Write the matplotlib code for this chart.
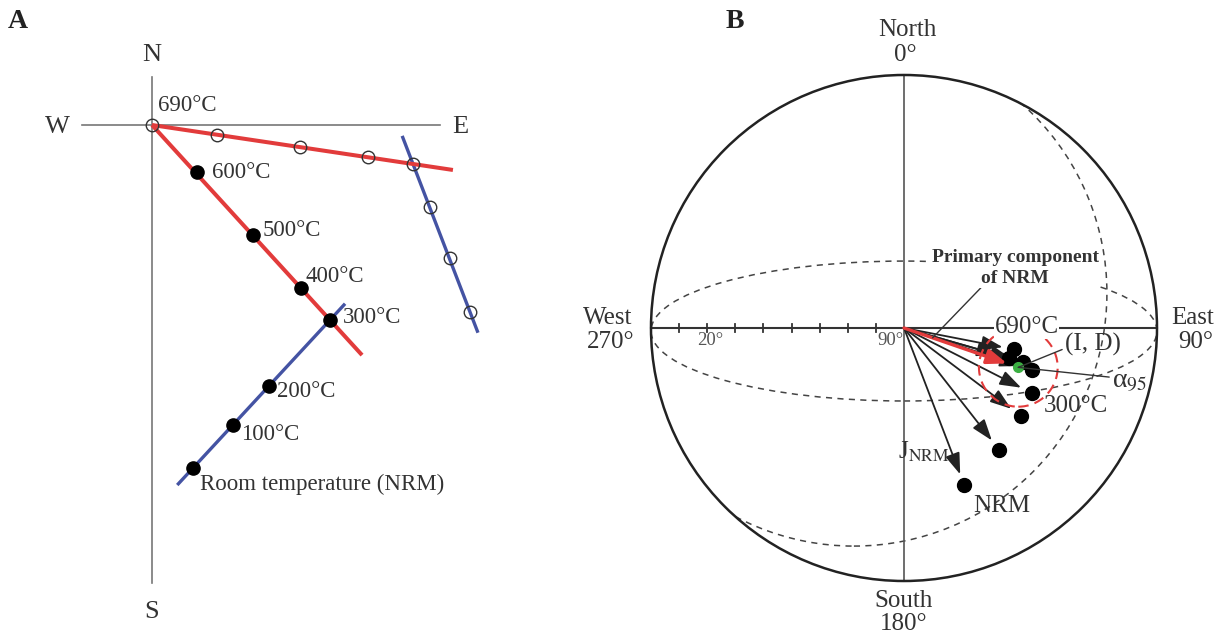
import numpy as np
import matplotlib.pyplot as plt
from matplotlib.patches import Circle, Ellipse

plt.rcParams['font.family'] = ['Liberation Serif', 'DejaVu Serif']
plt.rcParams['mathtext.fontset'] = 'stix'

# thermal demagnetization steps, from room temperature up
step_labels = ['Room temperature (NRM)', '100°C', '200°C', '300°C',
               '400°C', '500°C', '600°C', '690°C']

# orthogonal plot: horizontal plane (filled), vertical plane (open)
h_east = [2.05, 4.05, 5.85, 8.9, 7.45, 5.05, 2.25, 0.0]
h_north = [-17.15, -15.0, -13.05, -9.75, -8.15, -5.5, -2.35, 0.0]
v_east = [15.9, 14.9, 13.9, 13.05, 10.8, 7.4, 3.25, 0.0]
v_up = [-9.35, -6.65, -4.1, -1.95, -1.6, -1.1, -0.5, 0.0]

# directions of the same steps (declination, inclination in degrees)
dec = [159, 142, 127, 117, 108, 106, 106, 101]
inc = [30, 35, 38, 39, 42, 46, 51, 50]
mean_dec, mean_inc, a95 = 109, 47, 14

RED = '#e23b3b'
BLUE = '#4453a3'
TXT = '#333333'

fig = plt.figure(figsize=(12.28, 6.34), dpi=100)
axA = fig.add_axes([0, 0, 0.5, 1])
axB = fig.add_axes([0.5, 0, 0.5, 1])
for ax in (axA, axB):
    ax.set_axis_off()

# ---------------- A ----------------
axA.set_xlim(-7.6, 23.1)
axA.set_ylim(-25.45, 6.25)

axA.plot([-3.5, 14.4], [0, 0], color='#777777', lw=1.2, zorder=1)
axA.plot([0, 0], [2.4, -22.9], color='#777777', lw=1.2, zorder=1)
axA.text(0, 3.5, 'N', ha='center', va='center', fontsize=19, color=TXT)
axA.text(0, -24.35, 'S', ha='center', va='center', fontsize=19, color=TXT)
axA.text(-4.75, -0.1, 'W', ha='center', va='center', fontsize=19, color=TXT)
axA.text(15.4, -0.1, 'E', ha='center', va='center', fontsize=19, color=TXT)


def seg(xs, ys, i0, i1, before, after):
    p0 = np.array([xs[i0], ys[i0]])
    p1 = np.array([xs[i1], ys[i1]])
    v = p1 - p0
    a = p0 - before * v
    b = p1 + after * v
    return [a[0], b[0]], [a[1], b[1]]


# low-temperature component (blue) and high-temperature component (red)
x, y = seg(h_east, h_north, 0, 3, 0.115, 0.11)
axA.plot(x, y, color=BLUE, lw=2.4, solid_capstyle='butt', zorder=2)
x, y = seg(v_east, v_up, 3, 0, 0.19, 0.14)
axA.plot(x, y, color=BLUE, lw=2.4, solid_capstyle='butt', zorder=2)
x, y = seg(h_east, h_north, 7, 3, 0.0, 0.18)
axA.plot(x, y, color=RED, lw=2.9, solid_capstyle='butt', zorder=3)
x, y = seg(v_east, v_up, 7, 3, 0.0, 0.153)
axA.plot(x, y, color=RED, lw=2.9, solid_capstyle='butt', zorder=3)

axA.plot(h_east[:-1], h_north[:-1], 'o', color='black', ms=9.5, zorder=4)
axA.plot(v_east, v_up, 'o', mfc='none', mec='#333333', mew=1.0, ms=9, zorder=4)

label_offsets = [(5, -11.5), (6, -7), (6, -3.6), (9, 1.5),
                 (3.6, 8), (7, 3.6), (11, 0), (4.3, 14)]
for lab, ex, ny, off in zip(step_labels, h_east, h_north, label_offsets):
    axA.annotate(lab, (ex, ny), xytext=off, textcoords='offset points',
                 ha='left', va='center', fontsize=16.5, color=TXT, zorder=5)

fig.text(18 / 1228, 1 - 22 / 634, 'A', ha='center', va='center',
         fontsize=20, fontweight='bold', color='#222222')

# ---------------- B ----------------
axB.set_xlim(-1.1462, 1.2806)
axB.set_ylim(-1.2095, 1.2964)


def project(d, i):
    r = (90 - np.asarray(i, float)) / 90
    d = np.radians(d)
    return r * np.sin(d), r * np.cos(d)


net = Circle((0, 0), 1, fill=False, ec='#222222', lw=1.8, zorder=3)
axB.add_patch(net)
axB.add_patch(Ellipse((0, -0.012), 2.0, 0.553, fill=False, ec='#444444',
                      lw=1.1, ls=(0, (4, 3.5)), zorder=1))
gc = Circle((-0.198, 0.138), 1.0, fill=False, ec='#444444', lw=1.1,
            ls=(0, (4, 3.5)), zorder=1)
axB.add_patch(gc)
gc.set_clip_path(net)

axB.plot([0, 0], [-1, 1], color='#555555', lw=1.2, zorder=2)
axB.plot([-1, 1], [0, 0], color='#333333', lw=1.5, zorder=2)
for t in range(10, 90, 10):
    tx = -(90 - t) / 90
    axB.plot([tx, tx], [-0.014, 0.014], color='#333333', lw=1.3, zorder=2)
axB.text(-(90 - 20) / 90 + 0.012, -0.05, '20°', ha='center', va='center',
         fontsize=13.5, color='#555555')
axB.text(-0.003, -0.05, '90°', ha='right', va='center',
         fontsize=13.5, color='#555555')

axB.text(0.012, 1.178, 'North', ha='center', va='center', fontsize=18, color=TXT)
axB.text(0.004, 1.079, '0°', ha='center', va='center', fontsize=18, color=TXT)
axB.text(0.0, -1.079, 'South', ha='center', va='center', fontsize=18, color=TXT)
axB.text(0.0, -1.17, '180°', ha='center', va='center', fontsize=18, color=TXT)
axB.text(-1.17, 0.04, 'West', ha='center', va='center', fontsize=18, color=TXT)
axB.text(-1.158, -0.055, '270°', ha='center', va='center', fontsize=18, color=TXT)
axB.text(1.142, 0.04, 'East', ha='center', va='center', fontsize=18, color=TXT)
axB.text(1.154, -0.055, '90°', ha='center', va='center', fontsize=18, color=TXT)

px, py = project(dec, inc)
gap = 0.047
for x, y in zip(px, py):
    L = np.hypot(x, y)
    axB.annotate('', xy=(x * (1 - gap / L), y * (1 - gap / L)), xytext=(0, 0),
                 arrowprops=dict(arrowstyle='-|>,head_length=1.3,head_width=0.45',
                                 color='#222222', lw=1.3, shrinkA=0, shrinkB=0,
                                 mutation_scale=10),
                 zorder=4)
axB.plot(px, py, 'o', color='black', ms=10, zorder=5)

mx, my = project(mean_dec, mean_inc)
mx, my = float(mx), float(my)
L = np.hypot(mx, my)
axB.annotate('', xy=(mx * (1 - gap / L), my * (1 - gap / L)), xytext=(0, 0),
             arrowprops=dict(arrowstyle='-|>,head_length=1.2,head_width=0.45',
                             color=RED, lw=2.4, shrinkA=0, shrinkB=0,
                             mutation_scale=10),
             zorder=6)
axB.plot([mx], [my], 'o', color='#3cb043', ms=7, zorder=7)
axB.add_patch(Circle((mx, my), a95 / 90, fill=False, ec=RED, lw=1.5,
                     ls=(0, (5, 3)), zorder=6))

# labels
axB.annotate('Primary component\nof NRM', xy=(0.25 * mx, 0.25 * my),
             xytext=(0.439, 0.237), ha='center', va='center', fontsize=14,
             fontweight='bold', color=TXT, linespacing=1.3,
             bbox=dict(fc='white', ec='none', pad=0.5),
             arrowprops=dict(arrowstyle='-', color='#333333', lw=1.0,
                             relpos=(0.3, 0.0), shrinkA=0, shrinkB=0),
             zorder=8)
axB.annotate('690°C', (px[7], py[7]), xytext=(9, 16), textcoords='offset points',
             ha='center', va='center', fontsize=18, color=TXT,
             bbox=dict(fc='white', ec='none', pad=0.3), zorder=8)
axB.annotate('300°C', (px[3], py[3]), xytext=(32, -9), textcoords='offset points',
             ha='center', va='center', fontsize=18, color=TXT, zorder=8)
axB.annotate('NRM', (px[0], py[0]), xytext=(27, -15), textcoords='offset points',
             ha='center', va='center', fontsize=18, color=TXT, zorder=8)
axB.annotate(r'J$_{\mathrm{NRM}}$', (px[0], py[0]), xytext=(-29, 24),
             textcoords='offset points', ha='center', va='center',
             fontsize=18, color=TXT, zorder=8)
axB.annotate('(I, D)', xy=(mx, my), xytext=(0.636, -0.067), ha='left',
             va='center', fontsize=18, color=TXT,
             arrowprops=dict(arrowstyle='-', color='#333333', lw=1.0,
                             relpos=(0.0, 0.35), shrinkA=0, shrinkB=0),
             zorder=8)
axB.annotate(r'α$_{95}$', xy=(mx, my), xytext=(0.822, -0.21), ha='left',
             va='center', fontsize=20, color=TXT,
             arrowprops=dict(arrowstyle='-', color='#333333', lw=1.0,
                             relpos=(0.0, 0.65), shrinkA=0, shrinkB=0),
             zorder=8)

fig.text(735 / 1228, 1 - 22 / 634, 'B', ha='center', va='center',
         fontsize=20, fontweight='bold', color='#222222')

fig.savefig('out.png', dpi=100, facecolor='white')
